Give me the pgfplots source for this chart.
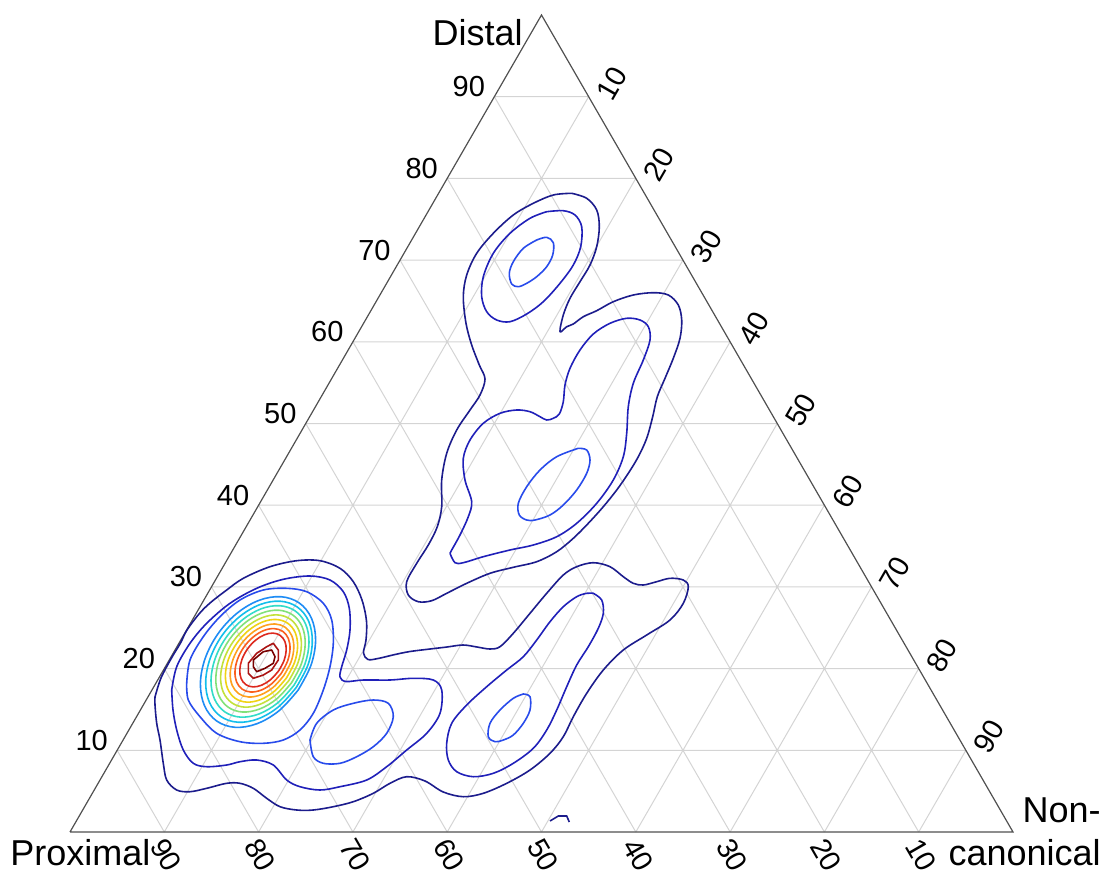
\documentclass[border=0pt]{standalone}
\usepackage{fontspec}
\setmainfont{Liberation Sans}
\usepackage{pgfplots}
\pgfplotsset{compat=1.18}
\definecolor{gridc}{RGB}{212,212,212}
\definecolor{edgec}{RGB}{80,80,80}
\definecolor{lv1}{RGB}{28,28,140}
\definecolor{lv2}{RGB}{32,32,185}
\definecolor{lv3}{RGB}{40,75,235}
\definecolor{lv4}{RGB}{30,140,245}
\definecolor{lv5}{RGB}{20,190,235}
\definecolor{lv6}{RGB}{50,220,200}
\definecolor{lv7}{RGB}{130,225,120}
\definecolor{lv8}{RGB}{195,225,60}
\definecolor{lv9}{RGB}{240,210,20}
\definecolor{lv10}{RGB}{255,160,30}
\definecolor{lv11}{RGB}{250,95,30}
\definecolor{lv12}{RGB}{220,40,30}
\definecolor{lv13}{RGB}{170,20,20}
\definecolor{lv14}{RGB}{120,0,0}
\pgfplotsset{
  cont/.style={line width=0.8pt, smooth, tension=0.55, line join=round},
  ring/.style={line width=0.8pt, smooth, tension=0.6, line join=round},
}
\tikzset{
  ttl/.style={font=\fontsize{18}{20}\selectfont, inner sep=0pt},
  tck/.style={font=\fontsize{14.5}{16}\selectfont, inner sep=0pt},
}
\begin{document}
\begin{tikzpicture}
\useasboundingbox (0,0) rectangle (551.5pt,436.5pt);
\begin{axis}[at={(0,0)}, anchor=south west, scale only axis,
  width=551.5pt, height=436.5pt,
  xmin=0, xmax=1103, ymin=0, ymax=873, y dir=reverse,
  hide axis, clip=false, unbounded coords=jump]

% grid lines
\addplot[gridc, line width=0.5pt] coordinates {
(117.15,750.3)(965.85,750.3)(nan,nan)
(164.3,668.6)(918.7,668.6)(nan,nan)
(211.45,586.9)(871.55,586.9)(nan,nan)
(258.6,505.2)(824.4,505.2)(nan,nan)
(305.75,423.5)(777.25,423.5)(nan,nan)
(352.9,341.8)(730.1,341.8)(nan,nan)
(400.05,260.1)(682.95,260.1)(nan,nan)
(447.2,178.4)(635.8,178.4)(nan,nan)
(494.35,96.7)(588.65,96.7)(nan,nan)
(164.3,832)(588.65,96.7)(nan,nan)
(258.6,832)(635.8,178.4)(nan,nan)
(352.9,832)(682.95,260.1)(nan,nan)
(447.2,832)(730.1,341.8)(nan,nan)
(541.5,832)(777.25,423.5)(nan,nan)
(635.8,832)(824.4,505.2)(nan,nan)
(730.1,832)(871.55,586.9)(nan,nan)
(824.4,832)(918.7,668.6)(nan,nan)
(918.7,832)(965.85,750.3)(nan,nan)
(918.7,832)(494.35,96.7)(nan,nan)
(824.4,832)(447.2,178.4)(nan,nan)
(730.1,832)(400.05,260.1)(nan,nan)
(635.8,832)(352.9,341.8)(nan,nan)
(541.5,832)(305.75,423.5)(nan,nan)
(447.2,832)(258.6,505.2)(nan,nan)
(352.9,832)(211.45,586.9)(nan,nan)
(258.6,832)(164.3,668.6)(nan,nan)
(164.3,832)(117.15,750.3)
};
% triangle
\addplot[edgec, line width=0.6pt, line join=miter] coordinates {(70,832)(1013,832)(541.5,15)(70,832)};

% level 1 : upper outer
\addplot[lv1, cont] coordinates {
(571.7,193.3)(586.7,198.3)(596.7,210)(599.3,226.7)(596.7,246.7)(590,265)(580,281.7)(570,298.3)(563.3,315)(560,331.7)
(566.7,326.7)(573.3,324)(583.3,316.7)(596.7,310.7)(613.3,301.7)(633.3,295)(653.3,292.7)(668.3,295)(678.3,305)(681.7,320)
(680,338.3)(673.3,358.3)(665,378.3)(657.3,396.7)(652.7,416.7)(646.7,438.3)(638.3,456.7)(628.3,473.3)(616.7,490)(603.3,506.7)
(588.3,523.3)(573.3,538.3)(556.7,551.7)(536.7,561.7)(513.3,567.3)(490,573.3)(466.7,583.3)(446.7,593.3)(431.7,600.7)(418.3,601.7)
(408.3,595)(406.7,581.7)(416.7,563.3)(428.3,545)(437.3,526.7)(441.7,506.7)(441.7,480)(446.7,453.3)(456.7,430)(470,410)
(480,395)(485,379)(479.3,365)(471.7,345)(466,323.3)(463.3,296.7)(466.7,275)(476.7,253.3)(493.3,233.3)(513.3,215)
(533.3,203.3)(553.3,195)(571.7,193.3)};
% level 1 : lower outer (left peak + lower right)
\addplot[lv1, cont] coordinates {
(155,697)(161,678)(171.5,658)(180.5,643)(187,630)(199,614)(210,603)(226.7,590)(243.3,578.3)(270,566.7)
(296.7,560.7)(320,560.7)(340,568.3)(353.3,581.7)(362,600)(366.5,621)(366,640)(363.5,653)(368,659.5)(378,658.5)
(395,654.5)(410,651.5)(430,649)(447,647)(463,645)(477,647)(490,649)(500,646.7)(513.3,633.3)(530,613.3)
(546.7,593.3)(563.3,575)(576.7,566.7)(593.3,562.7)(610,566.7)(623.3,576.7)(633.3,583.3)(643.3,585)(656.7,581.7)(670,578.3)
(683.3,580)(688.3,586.7)(683.3,603.3)(670,620)(646.7,635)(623.3,650)(603.3,670)(586.7,693.3)(573.3,716.7)(563.3,736.7)
(550,753.3)(530,770)(506.7,783.3)(483.3,793.3)(463.3,796.7)(443.3,792)(425,781)(406.7,776.7)(390,783.3)(373.3,793.3)
(353.3,801.7)(333.3,806.7)(313.3,810)(296.7,810)(280,806.7)(266.7,798.3)(253.3,788.3)(240,783.3)(226.7,783.3)(206.7,788.3)
(190,791.7)(176.7,790)(166.7,780)(163.3,763.3)(160,740)(156.7,723.3)(155,705)(155,697)};
% level 1 : small fragment at bottom
\addplot[lv1, line width=0.8pt] coordinates {(550,821)(558.3,816)(566.7,816)(569.3,822)};

% level 2
\addplot[lv2, cont] coordinates {
(546.7,211.7)(563.3,210.7)(575,215)(581.7,226.7)(580.7,246.7)(573.3,265)(560,283.3)(543.3,301.7)(526.7,314)(510,321.7)
(496.7,320)(486.7,311.7)(481.7,296.7)(483.3,276.7)(493.3,253.3)(510,233.3)(530,218.3)(546.7,211.7)};
\addplot[lv2, cont] coordinates {
(450,553.3)(455,562.7)(463.3,562.7)(483.3,556.7)(510,550)(533.3,545)(556.7,536.7)(576.7,523.3)(596.7,503.3)(613.3,480)
(623.3,456.7)(626.7,433.3)(628.3,406.7)(633.3,383.3)(643.3,360)(650,340)(648.3,326.7)(640,320)(626.7,318.3)(610,323.3)
(593.3,334)(580,350)(570,368.3)(565,385)(563.3,401.7)(559.3,414)(553.3,418.3)(546.7,420)(540,416.7)(530,411.7)
(516.7,410)(500,413.3)(483.3,423.3)(470,440)(463.3,458.3)(465,480)(471.7,501.7)(468.3,516.7)(460,535)(451.7,550)(450,553.3)};
\addplot[lv2, cont] coordinates {
(171.7,690)(176.7,666.7)(190,643.3)(206.7,623.3)(230,603.3)(256.7,588.3)(283.3,579.3)(310,576)(330,580)(343.3,591.7)
(349.3,608.3)(350,630)(346.7,650)(341.7,666.7)(340,677)(346,681.5)(363.3,680)(390,680)(413.3,678.3)(433.3,680)
(441.7,690)(440,713.3)(426.7,733.3)(406.7,750)(386.7,766.7)(366.7,780)(340,786.7)(320,790)(300,786.7)(286.7,780)
(273.3,765)(256.7,760)(240,761.7)(226.7,765)(206.7,766.7)(193.3,763.3)(183.3,750)(176.7,730)(173,710)(171.7,690)};
\addplot[lv2, cont] coordinates {
(593.3,593.3)(586.7,593.3)(576.7,596.7)(563.3,606.7)(550,621.7)(536.7,640)(523.3,656.7)(506.7,670)(486.7,686.7)(466.7,705)
(451.7,723.3)(446.7,743.3)(448.3,760)(456.7,771.7)(473.3,776.7)(493.3,773.3)(513.3,763.3)(533.3,748.3)(546.7,730)(556.7,710)
(566.7,686.7)(576.7,665)(588.3,646.7)(598.3,628.3)(603.3,613.3)(601.7,600)(593.3,593.3)};

% level 3
\addplot[lv3, cont] coordinates {
(536.7,240)(546.7,237.3)(553.3,242.7)(552.7,255)(546.7,266.7)(536.7,276.7)(526.7,283.3)(518.3,286.7)(511.7,284)(509.3,273.3)
(513.3,261.7)(523.3,248.3)(536.7,240)};
\addplot[lv3, cont] coordinates {
(578.3,448.3)(586.7,450)(590,460)(586.7,473.3)(576.7,490)(563.3,505)(550,515)(535,520)(526.7,520)(519.3,515)
(518.3,503.3)(526.7,486.7)(540,470)(556.7,456.7)(578.3,448.3)};
\addplot[lv3, cont] coordinates {
(523.3,694)(530,696.7)(530,710)(523.3,723.3)(513.3,735)(503.3,740)(495,741.7)(488.3,736.7)(490,723.3)(500,710)(513.3,698.3)(523.3,694)};
\addplot[lv3, cont] coordinates {
(310,740)(316.7,723.3)(333.3,710)(353.3,703.3)(373.3,700)(388.3,703.3)(393.3,716.7)(386.7,733.3)(373.3,746.7)(356.7,756.7)
(340,763.3)(323.3,763.3)(313.3,756.7)(310,740)};
\addplot[lv3, cont] coordinates {
(186.7,683.3)(190,660)(203.3,636.7)(220,616.7)(240,600)(263.3,590)(286.7,588.3)(306.7,591.7)(323.3,603.3)(331.7,620)
(333.3,643.3)(330,666.7)(323.3,690)(313.3,713.3)(300,730)(283.3,740)(263.3,743.3)(240,741.7)(216.7,733.3)(200,716.7)
(188.3,700)(186.7,683.3)};

% left peak rings
\addplot[lv4, ring] coordinates {
(298.1,690.1)(279.3,710.5)(257.2,723.6)(235.2,727.3)(216.7,721.0)(204.5,705.7)(200.4,683.8)(205.1,658.6)
(217.9,633.9)(236.7,613.5)(258.8,600.4)(280.8,596.7)(299.3,603.0)(311.5,618.3)(315.6,640.2)(310.9,665.4)(298.1,690.1)};
\addplot[lv5, ring] coordinates {
(296.1,687.7)(278.6,706.7)(258.2,718.8)(237.8,722.2)(220.7,716.4)(209.4,702.3)(205.7,682.0)(210.1,658.6)
(221.9,635.7)(239.4,616.8)(259.9,604.6)(280.2,601.2)(297.3,607.0)(308.6,621.1)(312.3,641.4)(308.0,664.8)(296.1,687.7)};
\addplot[lv6, ring] coordinates {
(294.0,685.2)(277.9,702.7)(259.1,713.9)(240.4,717.1)(224.7,711.8)(214.4,698.8)(211.0,680.2)(215.1,658.7)
(226.0,637.6)(242.1,620.1)(260.9,608.9)(279.6,605.7)(295.3,611.0)(305.6,624.0)(309.0,642.6)(304.9,664.1)(294.0,685.2)};
\addplot[lv7, ring] coordinates {
(291.5,682.8)(276.8,698.8)(259.6,709.0)(242.5,712.0)(228.2,707.2)(218.8,695.4)(215.8,678.4)(219.5,658.7)
(229.5,639.4)(244.3,623.4)(261.4,613.2)(278.5,610.2)(292.8,615.0)(302.2,626.8)(305.2,643.8)(301.5,663.5)(291.5,682.8)};
\addplot[lv8, ring] coordinates {
(288.9,680.5)(275.5,695.0)(260.0,704.3)(244.6,707.1)(231.8,702.8)(223.3,692.1)(220.6,676.8)(224.1,659.0)
(233.2,641.5)(246.5,627.0)(262.0,617.7)(277.4,614.9)(290.3,619.2)(298.7,629.9)(301.4,645.3)(297.9,663.0)(288.9,680.5)};
\addplot[lv9, ring] coordinates {
(286.3,678.2)(274.4,691.2)(260.5,699.6)(246.7,702.1)(235.2,698.3)(227.7,688.8)(225.4,675.0)(228.5,659.1)
(236.7,643.4)(248.6,630.4)(262.5,622.0)(276.3,619.5)(287.8,623.3)(295.3,632.8)(297.6,646.6)(294.5,662.5)(286.3,678.2)};
\addplot[lv10, ring] coordinates {
(283.7,675.7)(273.2,687.3)(260.9,694.7)(248.8,697.0)(238.8,693.7)(232.2,685.3)(230.2,673.2)(233.1,659.2)
(240.3,645.3)(250.8,633.8)(263.1,626.3)(275.2,624.0)(285.2,627.3)(291.8,635.7)(293.8,647.8)(291.0,661.9)(283.7,675.7)};
\addplot[lv11, ring] coordinates {
(281.2,673.4)(272.0,683.5)(261.4,690.0)(250.9,692.0)(242.3,689.2)(236.6,682.0)(235.0,671.5)(237.5,659.3)
(243.8,647.2)(253.0,637.2)(263.6,630.6)(274.1,628.6)(282.8,631.4)(288.4,638.6)(290.0,649.1)(287.5,661.3)(281.2,673.4)};
\addplot[lv12, ring] coordinates {
(278.6,670.9)(270.8,679.5)(261.8,685.1)(253.1,686.9)(245.8,684.6)(241.1,678.5)(239.8,669.7)(242.0,659.3)
(247.4,649.1)(255.2,640.5)(264.2,634.9)(272.9,633.1)(280.2,635.4)(284.9,641.5)(286.2,650.3)(284.0,660.7)(278.6,670.9)};
\addplot[lv13, line width=0.8pt, line join=round] coordinates {
(248.3,663.3)(256.7,653.3)(266.7,646.7)(273.3,643.3)(278.3,650)(278.3,660)(271.7,670)(263.3,675)(253.3,678.3)(248.3,673.3)(248.3,663.3)};
\addplot[lv14, line width=0.8pt, line join=round] coordinates {
(253.3,660)(263.3,651.7)(271.7,650)(275,656.7)(273.3,663.3)(265,668.3)(256.7,671.7)(253.3,666.7)(253.3,660)};

% titles
\node[ttl, anchor=base east] at (axis cs:523,45) {Distal};
\node[ttl, anchor=base west] at (axis cs:10,865) {Proximal};
\node[ttl, anchor=base east] at (axis cs:1101,822) {Non-};
\node[ttl, anchor=base east] at (axis cs:1101,865) {canonical};

% left (Distal) ticks
\node[tck, anchor=base east] at (axis cs:108.2,750.3) {10};
\node[tck, anchor=base east] at (axis cs:155.3,668.6) {20};
\node[tck, anchor=base east] at (axis cs:202.5,586.9) {30};
\node[tck, anchor=base east] at (axis cs:249.6,505.2) {40};
\node[tck, anchor=base east] at (axis cs:296.8,423.5) {50};
\node[tck, anchor=base east] at (axis cs:343.9,341.8) {60};
\node[tck, anchor=base east] at (axis cs:391.0,260.1) {70};
\node[tck, anchor=base east] at (axis cs:438.2,178.4) {80};
\node[tck, anchor=base east] at (axis cs:485.4,96.7) {90};

% right (Non-canonical) ticks
\node[tck, rotate=60] at (axis cs:612.1,83.2) {10};
\node[tck, rotate=60] at (axis cs:659.2,164.9) {20};
\node[tck, rotate=60] at (axis cs:706.4,246.6) {30};
\node[tck, rotate=60] at (axis cs:753.5,328.3) {40};
\node[tck, rotate=60] at (axis cs:800.7,410.0) {50};
\node[tck, rotate=60] at (axis cs:847.8,491.7) {60};
\node[tck, rotate=60] at (axis cs:895.0,573.4) {70};
\node[tck, rotate=60] at (axis cs:942.1,655.1) {80};
\node[tck, rotate=60] at (axis cs:989.3,736.8) {90};

% bottom (Proximal) ticks
\node[tck, rotate=-60] at (axis cs:166.3,855) {90};
\node[tck, rotate=-60] at (axis cs:260.6,855) {80};
\node[tck, rotate=-60] at (axis cs:354.9,855) {70};
\node[tck, rotate=-60] at (axis cs:449.2,855) {60};
\node[tck, rotate=-60] at (axis cs:543.5,855) {50};
\node[tck, rotate=-60] at (axis cs:637.8,855) {40};
\node[tck, rotate=-60] at (axis cs:732.1,855) {30};
\node[tck, rotate=-60] at (axis cs:826.4,855) {20};
\node[tck, rotate=-60] at (axis cs:920.7,855) {10};
\end{axis}
\end{tikzpicture}
\end{document}
